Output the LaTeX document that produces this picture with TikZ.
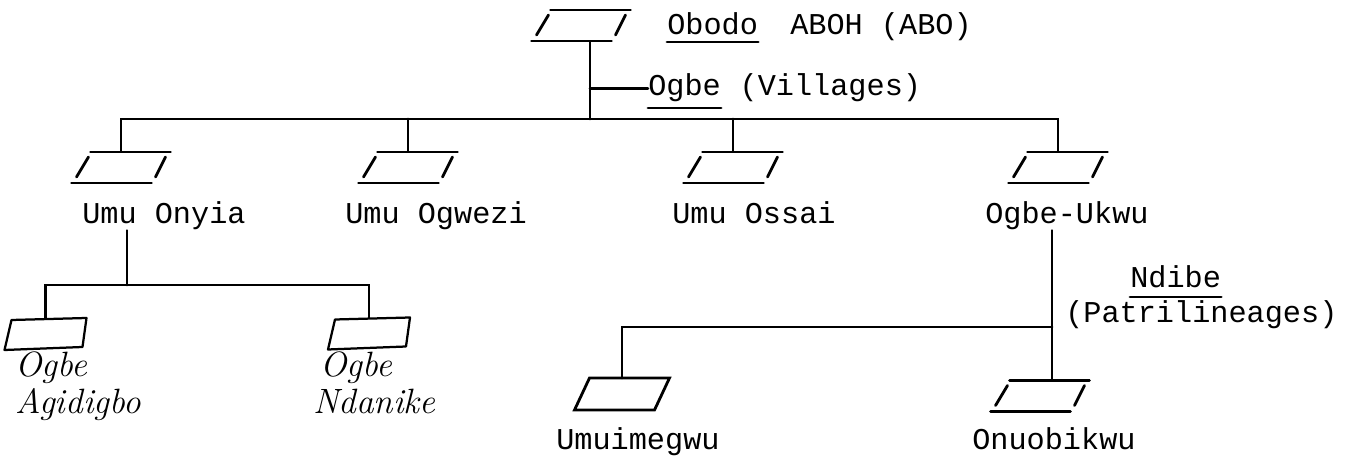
\documentclass[tikz,border=0pt]{standalone}
\usepackage{fontspec}
\usepackage{tikz}
\usetikzlibrary{positioning}
\newfontfamily\typedfont{Liberation Mono}

\begin{document}
\begin{tikzpicture}[x=0.025cm, y=-0.025cm,
  tie/.style={line width=2pt, line cap=round},
  typed/.style={font=\typedfont\fontsize{21.5}{24}\selectfont, inner sep=0pt, anchor=base west},
  script/.style={font=\itshape\fontsize{25}{28}\selectfont, inner sep=0pt, anchor=base west},
  symbox/.style={inner sep=0pt, outer sep=0pt, minimum width=2.475cm, minimum height=0.8cm},
  ward/.pic={
    \node[symbox] (-box) {};
    \draw[tie] (-30.5,-15.5) -- (49.5,-15.5);
    \draw[tie] (-49.5,15.5) -- (30.5,15.5);
    \draw[tie] (-32.5,-10.5) -- (-44.5,9.5);
    \draw[tie] (44.5,-10.5) -- (34.5,9.5);
  },
  lineage/.pic={
    \node[symbox] (-box) {};
    \draw[tie] (-32.5,-16) -- (47.5,-16) -- (32.5,16) -- (-47.5,16) -- cycle;
  },
  hand/.pic={
    \node[symbox, minimum width=2.05cm] (-box) {};
    \draw[tie, line width=1.6pt, line join=round] (-34,-14) -- (41,-16) -- (37,13) -- (-41,16) -- cycle;
  }
]
  \fill[white] (0,0) rectangle (1367,457);
  \useasboundingbox (0,0) rectangle (1367,457);

  % town
  \pic (aboh) at (581,25.5) {ward};
  \node[typed] (obodo) at (667,35) {Obodo};
  \node[typed] (abo) at (790,35) {ABOH (ABO)};
  \draw[tie] ([yshift=-0.175cm]obodo.base west) -- ([yshift=-0.175cm]obodo.base east);

  % villages
  \coordinate (hub) at (590,119);
  \node[typed] (ogbe) at (648,96) {Ogbe};
  \node[typed, base right=0.455cm of ogbe] (villages) {(Villages)};
  \draw[tie] ([yshift=-0.3cm]ogbe.base west) -- ([yshift=-0.3cm]ogbe.base east);

  \pic (onyia) at (121,167.5) {ward};
  \pic (ogwezi) at (408,167.5) {ward};
  \pic (ossai) at (733,167.5) {ward};
  \pic (ukwu) at (1058,167.5) {ward};
  \node[typed] (onyialab) at (82,224) {Umu Onyia};
  \node[typed] (ogwezilab) at (345,224) {Umu Ogwezi};
  \node[typed] (ossailab) at (672,224) {Umu Ossai};
  \node[typed] (ukwulab) at (985,224) {Ogbe-Ukwu};

  \draw[tie] (aboh-box.south -| hub) -- (hub);
  \draw[tie] (ogbe.west -| hub) -- (ogbe.west);
  \draw[tie] (onyia-box.north) -- (onyia-box.north |- hub) -- (ukwu-box.north |- hub) -- (ukwu-box.north);
  \foreach \v in {ogwezi,ossai}
    \draw[tie] (\v-box.north) -- (\v-box.north |- hub);

  % Umu Onyia
  \coordinate (split) at (127,285);
  \pic (agidigbo) at (45.5,334) {hand};
  \pic (ndanike) at (369,333.5) {hand};
  \node[script] (agidigbolab1) at (15,377) {Ogbe};
  \node[script] (agidigbolab2) at (15,414) {Agidigbo};
  \node[script] (ndanikelab1) at (320,377) {Ogbe};
  \node[script] (ndanikelab2) at (313,414) {Ndanike};
  \draw[tie] (split |- onyialab.south) -- (split);
  \draw[tie] (agidigbo-box.north) |- (split) -| (ndanike-box.north);

  % Ogbe-Ukwu
  \coordinate (fork) at (1052,327);
  \node[typed] (ndibe) at (1130,288) {Ndibe};
  \node[typed] (patri) at (1065,323) {(Patrilineages)};
  \draw[tie] ([yshift=-0.225cm]ndibe.base west) -- ([yshift=-0.225cm]ndibe.base east);
  \pic (umuimegwu) at (622,394) {lineage};
  \pic (onuobikwu) at (1040,396) {ward};
  \node[typed] (umuimegwulab) at (556,450) {Umuimegwu};
  \node[typed] (onuobikwulab) at (972,450) {Onuobikwu};
  \draw[tie] (fork |- ukwulab.south) -- (fork |- onuobikwu-box.north);
  \draw[tie] (fork) -| (umuimegwu-box.north);
\end{tikzpicture}
\end{document}
